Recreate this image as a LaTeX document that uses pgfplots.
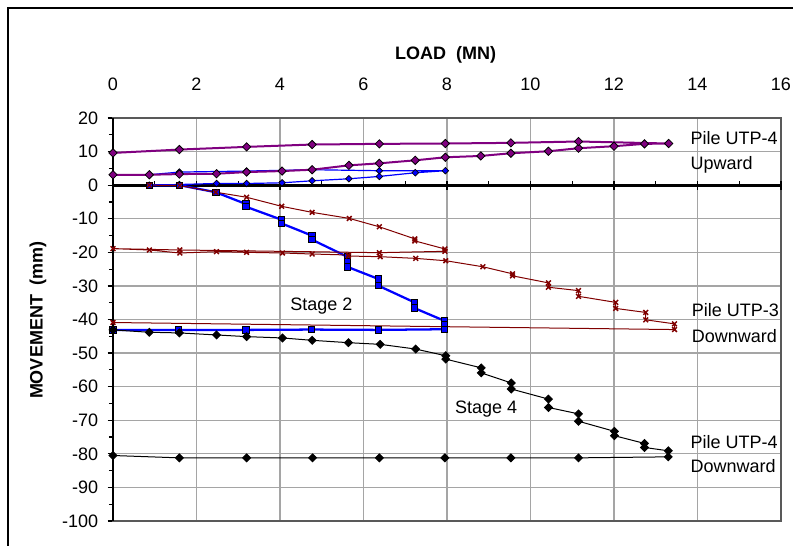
\documentclass[border=0pt]{standalone}
\usepackage{fontspec}
\setmainfont{Liberation Sans}
\usepackage{pgfplots}
\pgfplotsset{compat=1.18}
\definecolor{epurple}{RGB}{128,0,128}
\definecolor{eblue}{RGB}{0,0,255}
\definecolor{ered}{RGB}{128,0,0}
\definecolor{egrid}{RGB}{165,165,165}
\begin{document}
\begin{tikzpicture}
\useasboundingbox (-84.75pt,-18.75pt) rectangle (510pt,390.75pt);
\draw[black, line width=0.9pt] (-78.75pt,-30pt) -- (-78.75pt,384.75pt) -- (530pt,384.75pt);
\begin{axis}[
  at={(0pt,0pt)}, anchor=south west,
  scale only axis, width=501pt, height=302.25pt,
  xmin=0, xmax=16, ymin=-100, ymax=20,
  xtick={0,2,...,16}, ytick={-100,-90,...,20},
  minor ytick={-95,-85,...,15},
  xticklabel pos=upper,
  xmajorgrids, ymajorgrids,
  major grid style={egrid, line width=1pt},
  axis line style={black!65, line width=1pt},
  x tick style={draw=none},
  y tick style={black, line width=0.9pt},
  tick align=outside, major tick length=4pt, minor tick length=3pt,
  ytick pos=left,
  font=\fontsize{13.5}{16}\selectfont,
  /pgf/number format/assume math mode=true,
  xticklabel style={anchor=center, inner sep=0pt, yshift=21.5pt},
  yticklabel style={anchor=east, inner sep=0pt, xshift=-7pt},
  clip=false,
]
% thick zero line with ticks
\draw[black, line width=2.4pt] (axis cs:0,0) -- (axis cs:16,0);
\pgfplotsinvokeforeach{0,2,4,6,8,10,12,14,16}{\draw[black, line width=1.1pt] (axis cs:#1,-1.3) -- (axis cs:#1,1.3);}
\pgfplotsinvokeforeach{1,3,5,7,9,11,13,15}{\draw[black, line width=1.1pt] (axis cs:#1,0) -- (axis cs:#1,1.3);}
\draw[black, line width=1.6pt] (axis cs:0,-100) -- (axis cs:0,20);

% Blue thin diamonds (UTP-3 upward)
\addplot[eblue, line width=0.9pt, mark=square*, mark size=1.75pt,
  mark options={rotate=45, fill=eblue, draw=black, line width=0.5pt, solid}] coordinates {
(0.87,0.0) (1.59,0.2) (2.48,0.5) (3.2,0.5) (4.05,0.7) (4.77,1.3) (5.65,1.9)
(6.38,2.6) (7.24,3.7) (7.96,4.3) (6.38,4.3) (4.77,4.6) (3.2,4.2) (1.59,3.9) (0.87,3.1) (0,3.1)
};
% Purple (UTP-4 upward)
\addplot[epurple, line width=1.5pt, mark=square*, mark size=2.2pt,
  mark options={rotate=45, fill=epurple, draw=black, line width=0.6pt, solid}] coordinates {
(0,3.1) (0.87,3.1) (1.59,3.3) (2.48,3.4) (3.2,3.9) (4.05,4.2) (4.77,4.6) (5.65,5.9)
(6.38,6.5) (7.24,7.4) (7.96,8.3) (8.81,8.7) (9.53,9.5) (10.43,10.1) (11.15,11.0)
(12.0,11.6) (12.73,12.3) (13.31,12.4) (11.15,13.0) (9.53,12.6) (7.96,12.4)
(6.38,12.3) (4.77,12.1) (3.2,11.4) (1.59,10.6) (0,9.6)
};
% Blue squares (Stage 2)
\addplot[eblue, line width=1.7pt, mark=square*, mark size=2.4pt,
  mark options={fill=eblue, draw=black, line width=0.6pt, solid}] coordinates {
(0.87,0) (1.59,0) (2.46,-2.1) (3.18,-5.6) (3.18,-6.4) (4.04,-10.3) (4.04,-11.4)
(4.76,-15.0) (4.76,-16.2) (5.61,-21.3) (5.61,-22.8) (5.61,-24.3) (6.35,-27.9)
(6.35,-29.9) (7.22,-34.9) (7.22,-36.6) (7.94,-40.4) (7.94,-41.6) (7.94,-42.9)
(6.35,-43.1) (4.75,-43.0) (3.18,-43.1) (1.56,-43.1) (0,-43.1)
};
% Dark red x (UTP-3 downward)
\addplot[ered, line width=0.75pt, mark=x, mark size=2.5pt,
  mark options={ered, line width=1.1pt, solid}] coordinates {
(0.87,0) (1.6,-0.1) (2.46,-2.1) (3.2,-3.6) (4.04,-6.3) (4.77,-8.1) (5.66,-9.9)
(6.38,-12.4) (7.23,-16.0) (7.23,-16.6) (7.95,-19.0) (7.95,-19.7) (6.38,-20.1)
(1.6,-19.3) (0,-18.9) (0.87,-19.3) (1.6,-20.2) (2.48,-19.8) (3.2,-20.0)
(4.06,-20.2) (4.77,-20.5) (5.64,-20.8) (5.64,-21.1) (6.4,-21.3) (7.25,-21.8)
(7.97,-22.5) (8.86,-24.3) (9.57,-26.4) (9.57,-27.0) (10.43,-29.1) (10.43,-30.4)
(11.15,-31.4) (11.15,-33.1) (12.04,-34.9) (12.04,-36.7) (12.76,-37.9)
(12.76,-40.1) (13.45,-41.3) (13.45,-43.0) (0,-40.9)
};
% Black diamonds (UTP-4 downward)
\addplot[black, line width=0.75pt, mark=square*, mark size=2.05pt,
  mark options={rotate=45, fill=black, draw=black, solid}] coordinates {
(0,-43.1) (0.87,-43.8) (1.59,-44.0) (2.48,-44.6) (3.2,-45.1) (4.06,-45.5)
(4.77,-46.2) (5.64,-46.9) (6.4,-47.4) (7.25,-48.8) (7.97,-50.8) (7.97,-51.8)
(8.82,-54.4) (8.82,-55.9) (9.54,-58.9) (9.54,-60.7) (10.43,-63.7) (10.43,-66.2)
(11.15,-68.1) (11.15,-70.3) (12.01,-73.3) (12.01,-74.6) (12.73,-76.9)
(12.73,-78.1) (13.3,-79.1) (13.3,-80.9) (11.15,-81.2) (9.53,-81.2) (7.95,-81.2)
(6.38,-81.2) (4.78,-81.2) (3.2,-81.2) (1.59,-81.2) (0,-80.5)
};
% annotations
\node[anchor=base west, inner sep=0pt] at (axis cs:13.83,12.06) {Pile UTP-4};
\node[anchor=base west, inner sep=0pt] at (axis cs:13.83,4.8) {Upward};
\node[anchor=base west, inner sep=0pt] at (axis cs:13.86,-39.2) {Pile UTP-3};
\node[anchor=base west, inner sep=0pt] at (axis cs:13.86,-46.8) {Downward};
\node[anchor=base west, inner sep=0pt] at (axis cs:13.83,-78.3) {Pile UTP-4};
\node[anchor=base west, inner sep=0pt] at (axis cs:13.83,-85.5) {Downward};
\node[anchor=base west, inner sep=0pt] at (axis cs:4.24,-37.4) {Stage 2};
\node[anchor=base west, inner sep=0pt] at (axis cs:8.19,-68.0) {Stage 4};
\end{axis}
\node[anchor=base, inner sep=0pt, font=\fontsize{13.5}{16}\selectfont\bfseries] at (249.4pt,346.3pt) {LOAD\ \ (MN)};
\node[anchor=center, inner sep=0pt, rotate=90, font=\fontsize{13.5}{16}\selectfont\bfseries] at (-56.25pt,150.75pt) {MOVEMENT\ \ (mm)};
\end{tikzpicture}
\end{document}
